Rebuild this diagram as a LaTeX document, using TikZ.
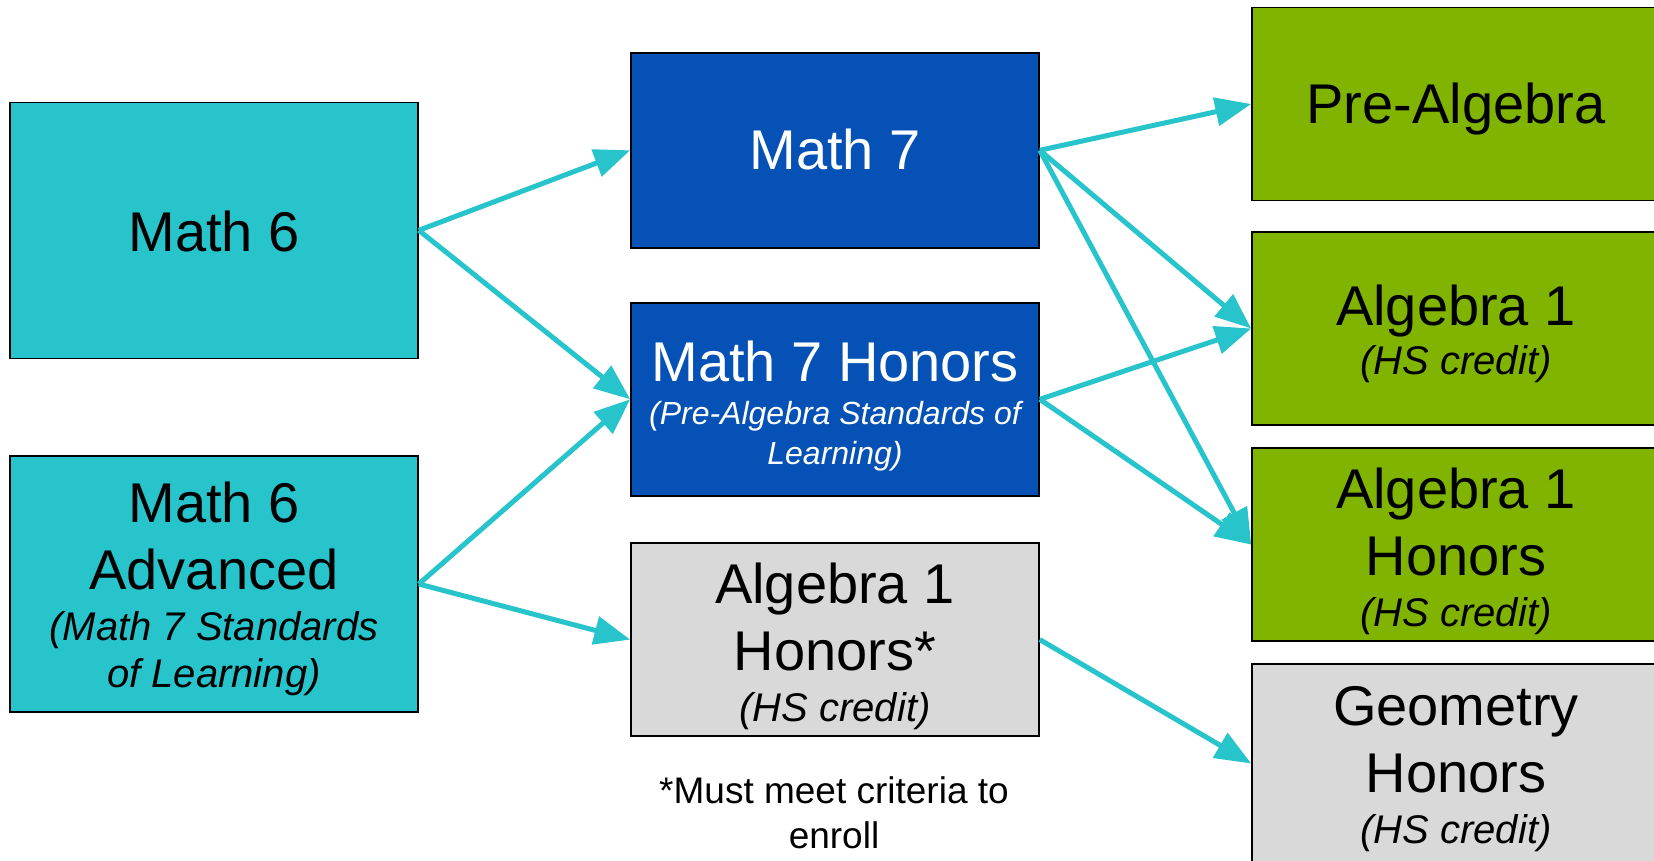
\documentclass[tikz,border=0pt]{standalone}
\usepackage{fontspec}
\setmainfont{Liberation Sans}
\usetikzlibrary{arrows.meta}

\definecolor{mathsix}{HTML}{27C4CC}
\definecolor{mathseven}{HTML}{0551B5}
\definecolor{hsgreen}{HTML}{80B400}
\definecolor{hsgray}{HTML}{D9D9D9}
\definecolor{linkcol}{HTML}{27C4CC}

% invisible strut with the ascent and descent of the current font
\newcommand\lh{\rule[-0.212em]{0pt}{1.117em}}
% taller strut for a first line that sits a little lower in its box
\newcommand\lhtop[1]{\rule[-0.212em]{0pt}{\dimexpr1.117em+#1\relax}}
% italic second-level lines inside a course box
\newcommand\coursesub[1]{{\fontsize{40}{48}\selectfont\itshape\lh #1}}
\newcommand\coursesubsmall[1]{{\fontsize{32}{38}\selectfont\itshape\lh #1}}

\begin{document}
\begin{tikzpicture}[x=1pt,y=-1pt,
  course/.style={draw=black, line width=1.6pt, minimum width=408pt,
    minimum height=193pt, inner sep=0pt, align=center,
    font=\fontsize{56}{67}\selectfont},
  sixth/.style={course, fill=mathsix, minimum height=256pt},
  seventh/.style={course, fill=mathseven, text=white},
  hsgreenbox/.style={course, fill=hsgreen},
  hsgraybox/.style={course, fill=hsgray},
  link/.style={draw=linkcol, line width=5pt,
    -{Triangle[length=36pt,width=28pt]}},
  note/.style={align=center, inner sep=0pt,
    font=\fontsize{37}{45.5}\selectfont}
]
\useasboundingbox (0,0) rectangle (1654,860);

% grade 6
\node[sixth] (m6) at (214,230.3) {\lhtop{3pt}Math 6};
\node[sixth] (m6a) at (214,584) {\lh Math 6\\\lh Advanced\\[-16pt]
  \coursesub{(Math 7 Standards}\\[-20pt]\coursesub{of Learning)}};

% grade 7
\node[seventh, minimum height=195pt] (m7) at (835,150.3) {\lh Math 7};
\node[seventh] (m7h) at (835,399.3) {\lhtop{4pt}Math 7 Honors\\[-24pt]
  \coursesubsmall{(Pre-Algebra Standards of}\\[-27pt]\coursesubsmall{Learning)}};
\node[hsgraybox] (a1s) at (835,639.6) {\lhtop{3pt}Algebra 1\\\lh Honors*\\[-16pt]
  \coursesub{(HS credit)}};
\node[note] (fn) at (834,813) {*Must meet criteria to\\enroll};

% grade 8
\node[hsgreenbox] (pre) at (1456,104) {\lh Pre-Algebra};
\node[hsgreenbox] (a1) at (1456,328.5) {\lh Algebra 1\\[-18pt]\coursesub{(HS credit)}};
\node[hsgreenbox] (a1h) at (1456,544.6) {\lhtop{3pt}Algebra 1\\\lh Honors\\[-16pt]
  \coursesub{(HS credit)}};
\node[hsgraybox, minimum height=199pt] (geo) at (1456,763.5) {\lh Geometry\\\lh Honors\\[-16pt]
  \coursesub{(HS credit)}};

% pathways
\draw[link] (m6.east) -- (m7.west);
\draw[link] (m6.east) -- (m7h.west);
\draw[link] (m6a.east) -- (m7h.west);
\draw[link] (m6a.east) -- (a1s.west);
\draw[link] (m7.east) -- (pre.west);
\draw[link] (m7.east) -- (a1.west);
\draw[link] (m7.east) -- (a1h.west);
\draw[link] (m7h.east) -- (a1.west);
\draw[link] (m7h.east) -- (a1h.west);
\draw[link] (a1s.east) -- (geo.west);
\end{tikzpicture}
\end{document}
